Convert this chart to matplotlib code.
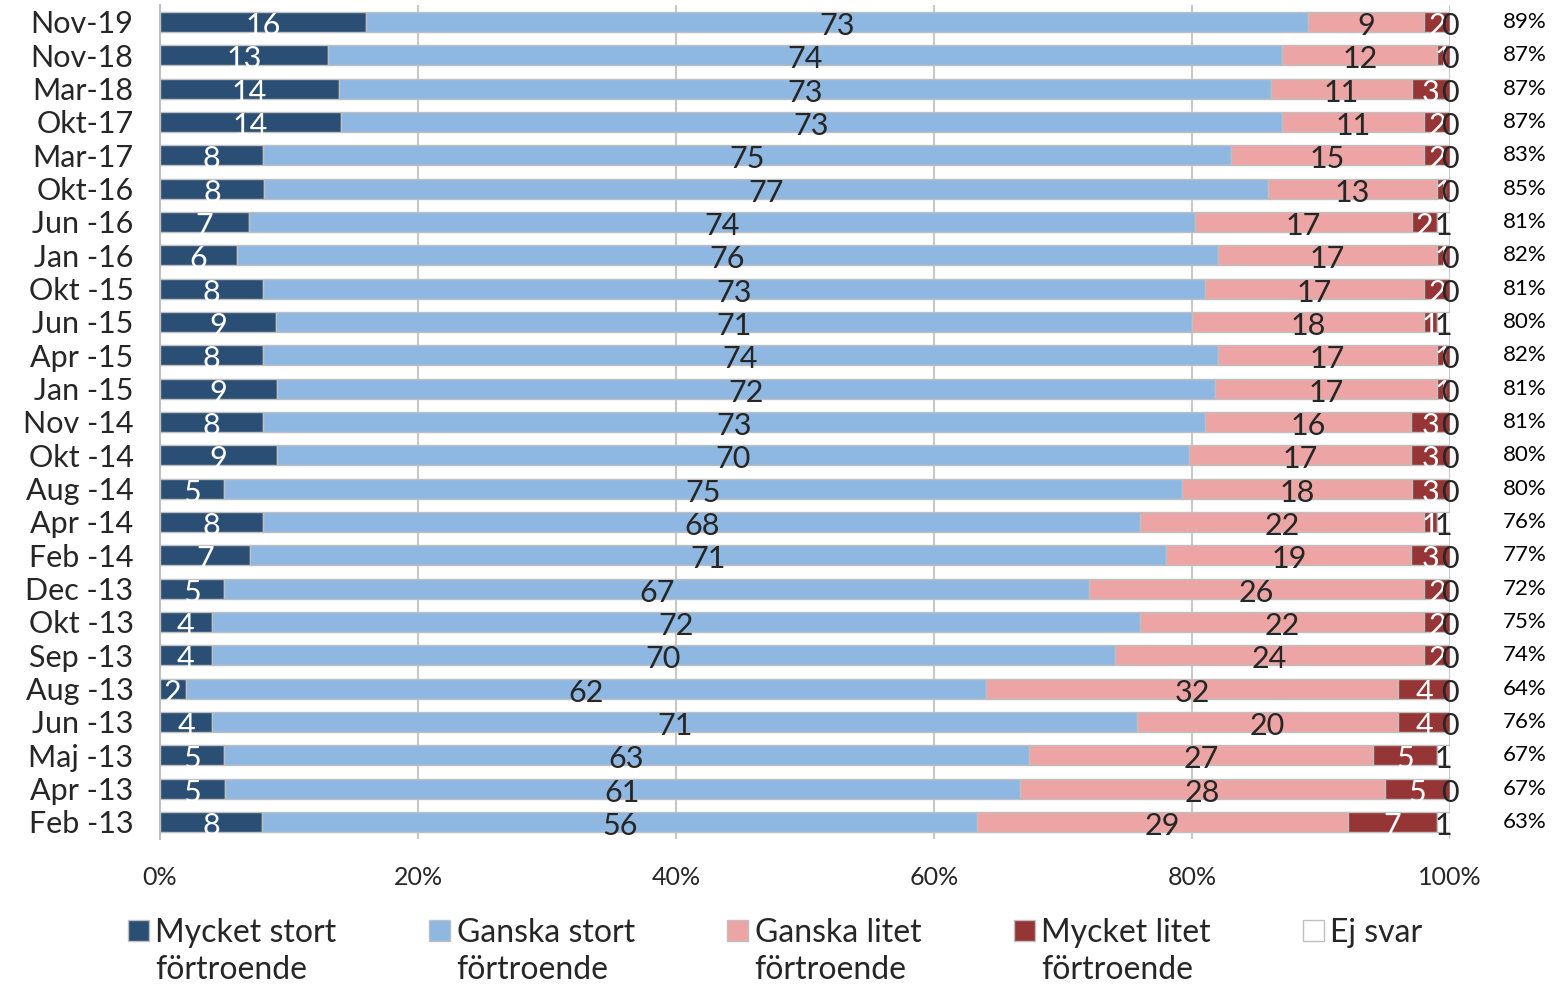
import numpy as np
import matplotlib
matplotlib.use("Agg")
import matplotlib.pyplot as plt
from matplotlib.patches import Patch, Rectangle
from matplotlib.legend_handler import HandlerPatch

plt.rcParams['font.family'] = ['Lato', 'DejaVu Sans']

# data, top to bottom as in the chart
periods = ["Nov-19", "Nov-18", "Mar-18", "Okt-17", "Mar-17", "Okt-16", "Jun -16",
           "Jan -16", "Okt -15", "Jun -15", "Apr -15", "Jan -15", "Nov -14",
           "Okt -14", "Aug -14", "Apr -14", "Feb -14", "Dec -13", "Okt -13",
           "Sep -13", "Aug -13", "Jun -13", "Maj -13", "Apr -13", "Feb -13"]
mycket_stort = [16, 13, 14, 14, 8, 8, 7, 6, 8, 9, 8, 9, 8, 9, 5, 8, 7, 5, 4, 4, 2, 4, 5, 5, 8]
ganska_stort = [73, 74, 73, 73, 75, 77, 74, 76, 73, 71, 74, 72, 73, 70, 75, 68, 71, 67, 72, 70, 62, 71, 63, 61, 56]
ganska_litet = [9, 12, 11, 11, 15, 13, 17, 17, 17, 18, 17, 17, 16, 17, 18, 22, 19, 26, 22, 24, 32, 20, 27, 28, 29]
mycket_litet = [2, 1, 3, 2, 2, 1, 2, 1, 2, 1, 1, 1, 3, 3, 3, 1, 3, 2, 2, 2, 4, 4, 5, 5, 7]
ej_svar = [0, 0, 0, 0, 0, 0, 1, 0, 0, 1, 0, 0, 0, 0, 0, 1, 0, 0, 0, 0, 0, 0, 1, 0, 1]
totals = ["89%", "87%", "87%", "87%", "83%", "85%", "81%", "82%", "81%", "80%", "82%", "81%", "81%",
          "80%", "80%", "76%", "77%", "72%", "75%", "74%", "64%", "76%", "67%", "67%", "63%"]

series = [
    ("Mycket stort\nförtroende", mycket_stort, "#2B4F74", "white"),
    ("Ganska stort\nförtroende", ganska_stort, "#8EB8E2", "#262626"),
    ("Ganska litet\nförtroende", ganska_litet, "#ECA5A4", "#262626"),
    ("Mycket litet\nförtroende", mycket_litet, "#953535", "white"),
    ("Ej svar\n ", ej_svar, "white", "#262626"),
]

data = np.array([s[1] for s in series], dtype=float)
pct = data / data.sum(axis=0) * 100

fig = plt.figure(figsize=(15.56, 9.84), dpi=100)
ax = fig.add_axes([0.1028, 0.1477, 0.8291, 0.8469])

y = np.arange(len(periods))
left = np.zeros(len(periods))
handles = []
for i, (name, vals, color, tcolor) in enumerate(series):
    ax.barh(y, pct[i], left=left, height=0.6, color=color,
            edgecolor="#BFBFBF", linewidth=1, zorder=3)
    for j, v in enumerate(vals):
        ax.text(left[j] + pct[i][j] / 2, y[j] + 0.12, str(v), ha="center", va="center",
                fontsize=22, color=tcolor, zorder=4)
    left += pct[i]
    handles.append(Patch(facecolor=color, edgecolor="#BFBFBF", label=name))

for j, t in enumerate(totals):
    ax.text(105.8, y[j], t, ha="center", va="center", fontsize=16,
            color="black", clip_on=False)

ax.set_xlim(0, 100)
ax.set_ylim(len(periods) - 0.5, -0.5)
ax.set_yticks(y)
ax.set_yticklabels(periods, fontsize=22, color="#262626")
ax.set_xticks(np.arange(0, 101, 20))
ax.set_xticklabels([f"{t}%" for t in range(0, 101, 20)], fontsize=18, color="#262626")
ax.tick_params(axis="y", length=0, pad=19)
ax.tick_params(axis="x", length=0, pad=20)
ax.grid(axis="x", color="#C8C8C8", linewidth=1.5, zorder=0)
for s in ["top", "right", "bottom"]:
    ax.spines[s].set_visible(False)
ax.spines["left"].set_color("#BFBFBF")
ax.spines["left"].set_linewidth(1.5)


# legend squares sit next to the first line of the label
def top_square(legend, orig_handle, xdescent, ydescent, width, height, fontsize):
    size = width
    return Rectangle((-xdescent, -ydescent + height - size + 6), size, size)


leg = fig.legend(handles=handles, loc="lower left", bbox_to_anchor=(0.064, -0.03), ncol=5,
                 frameon=False, fontsize=23, handlelength=0.65, handleheight=2.0,
                 handletextpad=0.2, columnspacing=2.9, labelcolor="#262626",
                 handler_map={Patch: HandlerPatch(patch_func=top_square)})
for t in leg.get_texts():
    t.set_linespacing(1.3)

fig.savefig("out.png", dpi=100)
